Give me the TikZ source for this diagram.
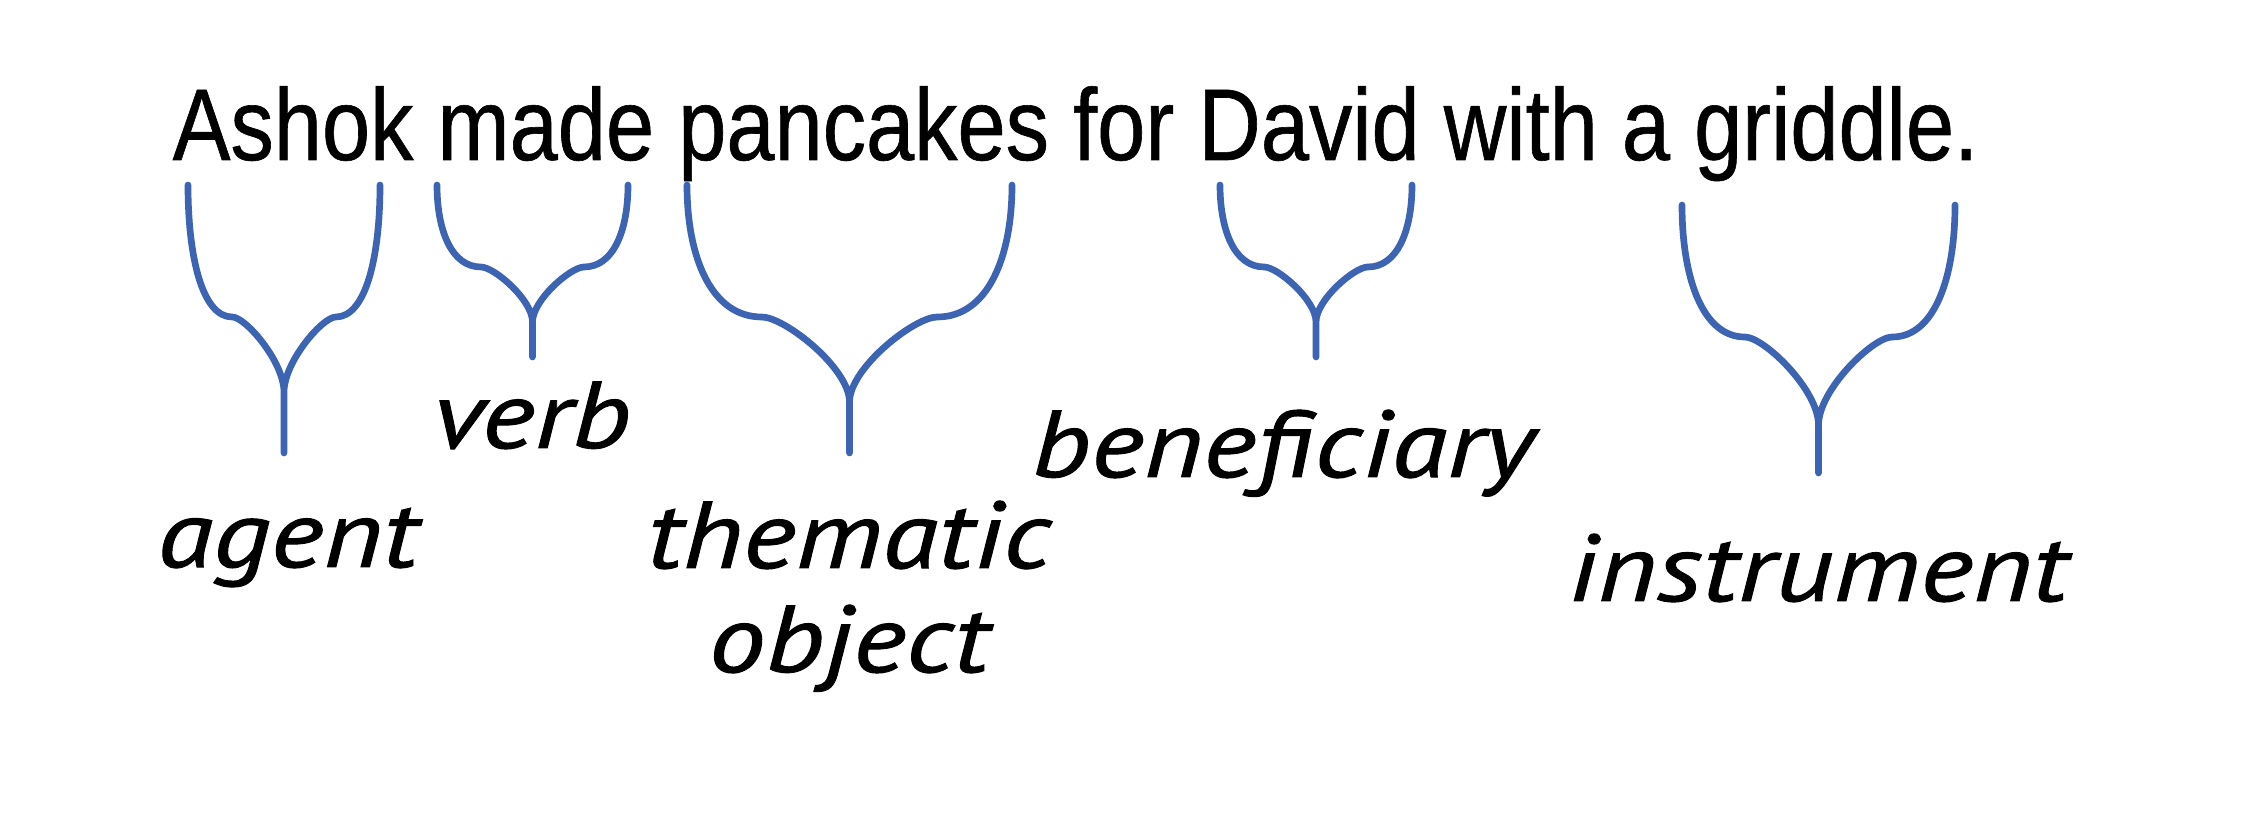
\documentclass[tikz,border=0pt]{standalone}
\usepackage{fontspec}
\setmainfont{Liberation Sans}[FakeStretch=0.85,FakeBold=0.6]
\newfontfamily\handfont{PT Sans}[FakeStretch=1.2,FakeBold=1]
\definecolor{braceblue}{RGB}{60,100,178}

\tikzset{
  sentence/.style={font=\fontsize{29}{34}\selectfont, anchor=base west, inner sep=0pt},
  role/.style={font=\handfont\itshape\fontsize{27}{32}\selectfont, anchor=base, inner sep=0pt},
  bracestroke/.style={draw=braceblue, line width=1.9pt, line cap=round, line join=round}
}

% A curly brace opening upwards: #1 name, #2 left x, #3 right x,
% #4 top y, #5 knee y, #6 cusp y, #7 tip y (y grows downwards)
\newcommand\rolebrace[7]{%
  \pgfmathsetmacro\bM{(#2+#3)/2}%
  \pgfmathsetmacro\bH{(#3-#2)/2}%
  \pgfmathsetmacro\bB{#2+0.15*\bH}%
  \pgfmathsetmacro\bC{#2+0.46*\bH}%
  \pgfmathsetmacro\bD{#2+0.6*\bH}%
  \pgfmathsetmacro\bBr{#3-0.15*\bH}%
  \pgfmathsetmacro\bCr{#3-0.46*\bH}%
  \pgfmathsetmacro\bDr{#3-0.6*\bH}%
  \pgfmathsetmacro\yA{#4+0.55*(#5-#4)}%
  \pgfmathsetmacro\yB{#5+0.6*(#6-#5)}%
  \coordinate (#1-l) at (#2,#4);
  \coordinate (#1-r) at (#3,#4);
  \coordinate (#1-cusp) at (\bM,#6);
  \coordinate (#1-tip) at (\bM,#7);
  \draw[bracestroke] (#1-l)
    .. controls (#2,\yA) and (\bB,#5) .. (\bC,#5)
    .. controls (\bD,#5) and (\bM,\yB) .. (#1-cusp)
    -- (#1-tip) -- (#1-cusp)
    .. controls (\bM,\yB) and (\bDr,#5) .. (\bCr,#5)
    .. controls (\bBr,#5) and (#3,\yA) .. (#1-r);
}

\begin{document}
\begin{tikzpicture}[x=0.1mm,y=-0.1mm]
  \useasboundingbox[fill=white] (0,0) rectangle (2267,817);

  \node[sentence] (sent) at (172,160) {Ashok made pancakes for David with a griddle.};

  \rolebrace{agentbr}{188}{380}{185}{317}{392}{453}
  \rolebrace{verbbr}{437}{628}{185}{267}{322}{357}
  \rolebrace{themebr}{687}{1012}{185}{317}{402}{453}
  \rolebrace{benefbr}{1220}{1412}{185}{267}{322}{357}
  \rolebrace{instrbr}{1682}{1955}{205}{337}{425}{473}

  \node[role] (agent) at (288,567) {agent};
  \node[role] (verb) at (532,448) {verb};
  \node[role] (thematic) at (849,568) {thematic};
  \node[role] (object) at (849,672) {object};
  \node[role] (benef) at (1283,477) {beneficiary};
  \node[role] (instr) at (1818,601) {instrument};
\end{tikzpicture}
\end{document}
